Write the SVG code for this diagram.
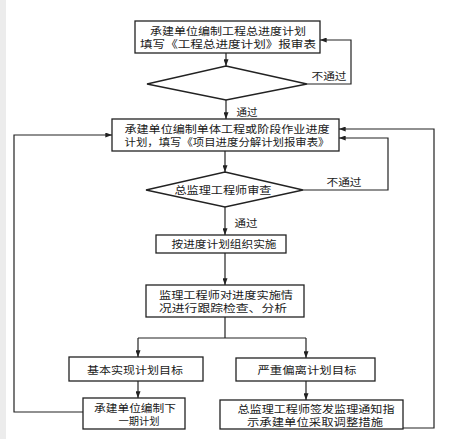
<svg xmlns="http://www.w3.org/2000/svg" width="463" height="439" viewBox="0 0 463 439">
<style>
.box{fill:#fff;stroke:#222;stroke-width:1.3}
.ln{fill:none;stroke:#222;stroke-width:1.2}
text{font-family:"Liberation Sans","Noto Sans CJK SC",sans-serif;font-size:10.5px;fill:#1a1a1a;text-anchor:middle;dominant-baseline:central}
</style>
<defs>
<marker id="ar" viewBox="0 0 8 6" refX="8" refY="3" markerWidth="7" markerHeight="5" orient="auto" markerUnits="userSpaceOnUse">
<path d="M0,0 L8,3 L0,6 Z" fill="#222"/>
</marker>
</defs>
<rect x="0" y="0" width="463" height="439" fill="#fff"/>
<rect x="0" y="0" width="6" height="439" fill="#ececec"/>
<g id="connectors">
<path class="ln" d="M226,53 V66" marker-end="url(#ar)"/>
<path class="ln" d="M226,100 V119" marker-end="url(#ar)"/>
<path class="ln" d="M307,84 H351 V40 H320" marker-end="url(#ar)"/>
<path class="ln" d="M225,151 V172" marker-end="url(#ar)"/>
<path class="ln" d="M303,190 H388 V138 H339" marker-end="url(#ar)"/>
<path class="ln" d="M225,207 V235" marker-end="url(#ar)"/>
<path class="ln" d="M225,253 V285" marker-end="url(#ar)"/>
<path class="ln" d="M225,317 V338 M138,338 H306"/>
<path class="ln" d="M138,338 V357" marker-end="url(#ar)"/>
<path class="ln" d="M306,338 V358" marker-end="url(#ar)"/>
<path class="ln" d="M138,381 V398" marker-end="url(#ar)"/>
<path class="ln" d="M306,381 V400" marker-end="url(#ar)"/>
<path class="ln" d="M83,412 H14 V135 H112" marker-end="url(#ar)"/>
<path class="ln" d="M403,428 H434 V129 H339" marker-end="url(#ar)"/>
<text x="329" y="76" textLength="35" lengthAdjust="spacingAndGlyphs">不通过</text>
<text x="247" y="112" textLength="21" lengthAdjust="spacingAndGlyphs">通过</text>
<text x="344" y="182" textLength="35" lengthAdjust="spacingAndGlyphs">不通过</text>
<text x="246" y="223" textLength="23" lengthAdjust="spacingAndGlyphs">通过</text>
</g>
<g id="n1">
<rect class="box" x="135" y="21" width="185" height="32"/>
<text x="228" y="31" textLength="156" lengthAdjust="spacingAndGlyphs">承建单位编制工程总进度计划</text>
<text x="228" y="44" textLength="176" lengthAdjust="spacingAndGlyphs">填写《工程总进度计划》报审表</text>
</g>
<g id="d1">
<polygon class="box" points="226,66 307,84 226,100 147,84"/>
</g>
<g id="n2">
<rect class="box" x="112" y="119" width="227" height="32"/>
<text x="227" y="128.5" textLength="205" lengthAdjust="spacingAndGlyphs">承建单位编制单体工程或阶段作业进度</text>
<text x="227" y="141.5" textLength="205" lengthAdjust="spacingAndGlyphs">计划，填写《项目进度分解计划报审表》</text>
</g>
<g id="d2">
<polygon class="box" points="225,172 303,190 225,207 146,190"/>
<text x="223" y="190" textLength="97" lengthAdjust="spacingAndGlyphs">总监理工程师审查</text>
</g>
<g id="n3">
<rect class="box" x="156" y="235" width="130" height="18"/>
<text x="224" y="244" textLength="105" lengthAdjust="spacingAndGlyphs">按进度计划组织实施</text>
</g>
<g id="n4">
<rect class="box" x="146" y="285" width="158" height="32"/>
<text x="226" y="294.5" textLength="134" lengthAdjust="spacingAndGlyphs">监理工程师对进度实施情</text>
<text x="223" y="307.5" textLength="128" lengthAdjust="spacingAndGlyphs">况进行跟踪检查、分析</text>
</g>
<g id="n5">
<rect class="box" x="69" y="357" width="134" height="24"/>
<text x="135" y="369.5" textLength="96" lengthAdjust="spacingAndGlyphs">基本实现计划目标</text>
</g>
<g id="n6">
<rect class="box" x="236" y="358" width="139" height="23"/>
<text x="307" y="370" textLength="99" lengthAdjust="spacingAndGlyphs">严重偏离计划目标</text>
</g>
<g id="n7">
<rect class="box" x="83" y="398" width="102" height="31"/>
<text x="135" y="407.5" textLength="82" lengthAdjust="spacingAndGlyphs">承建单位编制下</text>
<text x="139" y="420.5" textLength="41" lengthAdjust="spacingAndGlyphs">一期计划</text>
</g>
<g id="n8">
<rect class="box" x="220" y="400" width="183" height="29"/>
<text x="316" y="408.5" textLength="157" lengthAdjust="spacingAndGlyphs">总监理工程师签发监理通知指</text>
<text x="315" y="421.5" textLength="136" lengthAdjust="spacingAndGlyphs">示承建单位采取调整措施</text>
</g>
</svg>
